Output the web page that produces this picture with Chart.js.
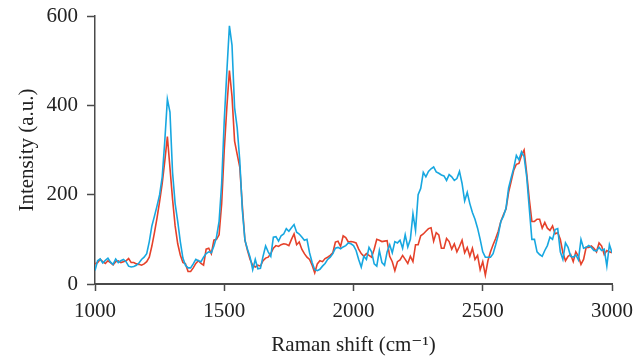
<!DOCTYPE html>
<html>
<head>
<meta charset="utf-8">
<script src="https://cdn.jsdelivr.net/npm/chart.js@4"></script>
<style>
  html, body { margin: 0; padding: 0; background: #fff; }
  #wrap { width: 642px; height: 358px; }
</style>
</head>
<body>
<div id="wrap"><canvas id="ramanChart"></canvas></div>
<script>
// Raman shift from 1000 to 3000 cm-1, one reading every 10 cm-1
const shiftStart = 1000;
const shiftStep = 10;

const blueSpectrum = [
  30, 52, 56, 47, 53, 58, 49, 44, 56, 48,
  52, 55, 50, 40, 38, 39, 42, 47, 55, 60,
  68, 95, 130, 152, 175, 200, 240, 320, 414, 385,
  250, 180, 140, 95, 58, 42, 36, 36, 45, 55,
  52, 50, 60, 68, 72, 70, 85, 105, 140, 225,
  366, 475, 578, 535, 395, 350, 277, 165, 98, 78,
  60, 32, 55, 34, 35, 62, 85, 72, 62, 105,
  106, 96, 108, 112, 124, 118, 126, 133, 116, 112,
  105, 98, 100, 70, 48, 32, 30, 33, 40, 46,
  55, 60, 68, 80, 82, 79, 83, 86, 92, 90,
  86, 75, 55, 38, 62, 55, 82, 72, 45, 40,
  75, 48, 42, 72, 88, 70, 95, 92, 98, 80,
  110, 83, 100, 157, 120, 200, 214, 250, 240, 252,
  258, 262, 251, 248, 244, 242, 232, 245, 240, 232,
  236, 252, 225, 186, 205, 180, 160, 145, 125, 100,
  72, 60, 60, 60, 68, 88, 110, 140, 152, 170,
  215, 238, 260, 288, 278, 296, 285, 240, 170, 100,
  100, 72, 66, 62, 75, 86, 105, 100, 122, 124,
  72, 55, 92, 82, 62, 60, 65, 54, 100, 80,
  82, 86, 82, 75, 74, 82, 75, 78, 40, 88,
  70
];

const redSpectrum = [
  45, 48, 55, 50, 46, 52, 48, 43, 50, 52,
  48, 50, 52, 57, 48, 48, 45, 44, 42, 45,
  50, 60, 85, 115, 148, 185, 225, 275, 330, 260,
  190, 130, 90, 65, 48, 45, 28, 28, 36, 46,
  52, 46, 42, 78, 80, 68, 98, 100, 110, 180,
  300, 395, 478, 420, 320, 290, 262, 175, 98, 75,
  55, 42, 38, 42, 40, 52, 58, 60, 68, 80,
  86, 84, 88, 90, 89, 86, 100, 112, 88, 94,
  78, 68, 60, 55, 42, 25, 45, 52, 50, 57,
  60, 64, 70, 94, 96, 84, 108, 104, 94, 95,
  94, 92, 78, 68, 62, 68, 64, 60, 78, 100,
  98, 95, 96, 97, 62, 50, 30, 50, 54, 64,
  55, 46, 62, 50, 88, 88, 108, 112, 118, 124,
  126, 96, 115, 110, 80, 80, 102, 95, 78, 90,
  72, 84, 98, 70, 82, 62, 80, 55, 64, 32,
  50, 20, 52, 72, 88, 102, 118, 140, 155, 168,
  205, 230, 255, 268, 270, 288, 300, 248, 190, 140,
  140, 145, 145, 125, 138, 125, 120, 130, 112, 115,
  100, 70, 52, 62, 66, 50, 72, 62, 44, 55,
  82, 82, 85, 80, 72, 92, 85, 66, 75, 72,
  70
];

const xTicks = [1000, 1500, 2000, 2500, 3000];
const yTicks = [0, 200, 400, 600];

const toPoints = arr => arr.map((v, i) => ({ x: shiftStart + i * shiftStep, y: v }));

const axisColor = '#4a4a4a';
const serif = "'Liberation Serif', 'DejaVu Serif', serif";

const ctx = document.getElementById('ramanChart').getContext('2d');
new Chart(ctx, {
  type: 'line',
  data: {
    datasets: [
      {
        label: 'blue',
        data: toPoints(blueSpectrum),
        borderColor: '#17a7e0',
        borderWidth: 1.6,
        pointRadius: 0,
        tension: 0
      },
      {
        label: 'red',
        data: toPoints(redSpectrum),
        borderColor: '#e5412a',
        borderWidth: 1.6,
        pointRadius: 0,
        tension: 0
      }
    ]
  },
  options: {
    responsive: true,
    maintainAspectRatio: false,
    animation: false,
    layout: { padding: { top: 16, right: 30, left: 0, bottom: 0 } },
    plugins: {
      legend: { display: false },
      tooltip: { enabled: false }
    },
    scales: {
      x: {
        type: 'linear',
        min: xTicks[0],
        max: xTicks[xTicks.length - 1],
        afterBuildTicks: s => { s.ticks = xTicks.map(v => ({ value: v })); },
        afterFit: s => { s.height = 74; },
        border: { display: true, color: axisColor, width: 2 },
        grid: { drawOnChartArea: false, drawTicks: true, tickLength: 7, tickColor: axisColor, tickWidth: 1.5 },
        ticks: {
          color: '#222',
          font: { family: serif, size: 21 },
          padding: 8,
          maxRotation: 0,
          callback: v => String(v)
        },
        title: {
          display: true,
          text: 'Raman shift (cm\u207B\u00B9)',
          color: '#222',
          font: { family: serif, size: 21 },
          padding: { top: 0, bottom: 0 }
        }
      },
      y: {
        min: yTicks[0],
        max: yTicks[yTicks.length - 1],
        afterBuildTicks: s => { s.ticks = yTicks.map(v => ({ value: v })); },
        afterFit: s => { s.width = 95; s.paddingTop = 0; s.paddingBottom = 0; },
        border: { display: true, color: axisColor, width: 1.5 },
        grid: { drawOnChartArea: false, drawTicks: true, tickLength: 8, tickColor: axisColor, tickWidth: 1.5 },
        ticks: { color: '#222', font: { family: serif, size: 21 }, padding: 9 },
        title: {
          display: true,
          text: 'Intensity (a.u.)',
          color: '#222',
          font: { family: serif, size: 21 },
          padding: { top: 15, bottom: 0 }
        }
      }
    }
  }
});
</script>
</body>
</html>
